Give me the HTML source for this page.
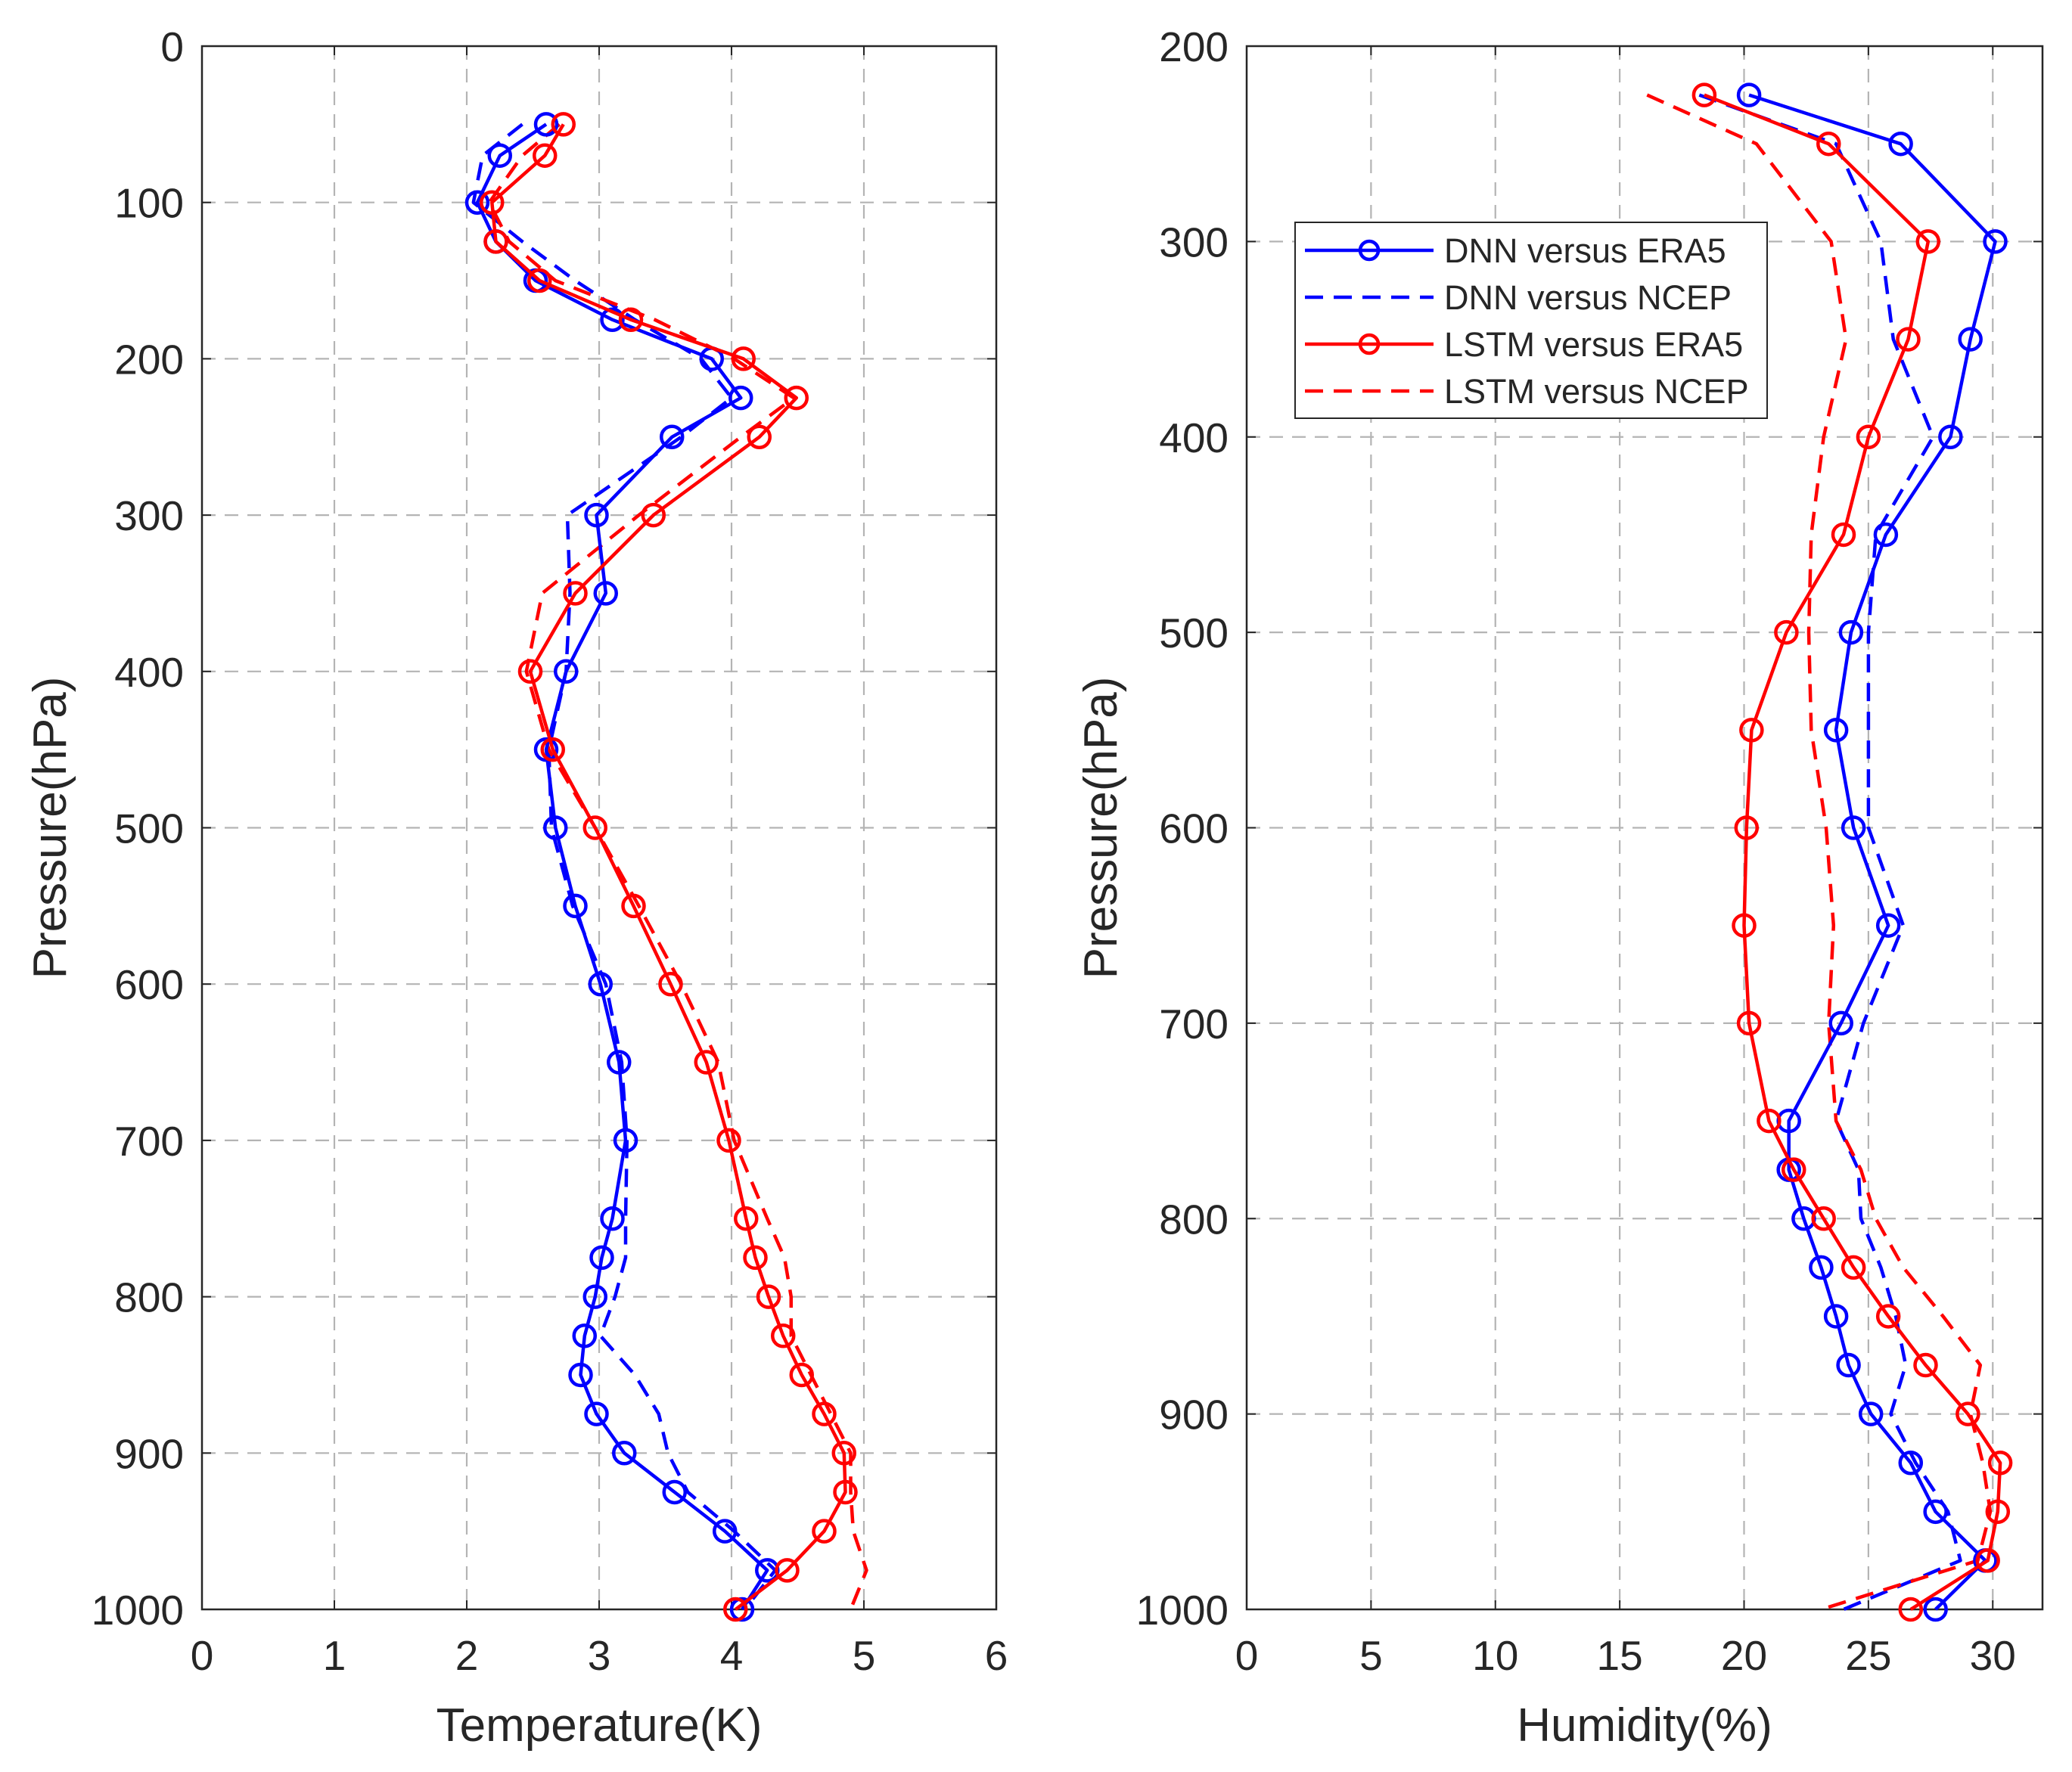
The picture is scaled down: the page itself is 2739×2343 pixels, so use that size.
<!DOCTYPE html>
<html><head><meta charset="utf-8"><style>
html,body{margin:0;padding:0;background:#fff}
svg{display:block;font-family:"Liberation Sans",Arial,sans-serif}
</style></head><body>
<svg id="chart" width="2739" height="2343" viewBox="0 0 2739 2343" xmlns="http://www.w3.org/2000/svg">
<rect width="2739" height="2343" fill="#fff"/>
</svg>
<script>
// ---- Data: temperature panel ----
const tLevels = [50,70,100,125,150,175,200,225,250,300,350,400,450,500,550,600,650,700,750,775,800,825,850,875,900,925,950,975,1000];
const tDnnEra5 = [2.6,2.25,2.08,2.22,2.52,3.1,3.85,4.07,3.55,2.98,3.05,2.75,2.6,2.67,2.82,3.01,3.15,3.2,3.1,3.02,2.97,2.89,2.86,2.98,3.19,3.57,3.95,4.27,4.08];
const tDnnNcep = [2.42,2.12,2.05,2.42,2.82,3.27,3.77,4.0,3.62,2.76,2.78,2.75,2.62,2.64,2.8,3.05,3.17,3.21,3.2,3.2,3.12,3.01,3.27,3.45,3.52,3.67,4.02,4.33,4.1];
const tLstmEra5 = [2.73,2.59,2.19,2.22,2.55,3.24,4.09,4.49,4.21,3.41,2.82,2.48,2.65,2.97,3.26,3.54,3.81,3.98,4.11,4.18,4.28,4.39,4.53,4.7,4.85,4.86,4.7,4.42,4.03];
const tLstmNcep = [2.7,2.42,2.17,2.32,2.67,3.42,4.02,4.47,4.07,3.3,2.57,2.45,2.62,2.97,3.3,3.62,3.9,4.02,4.27,4.4,4.45,4.45,4.6,4.75,4.9,4.9,4.92,5.02,4.9];
const tXTicks = [0,1,2,3,4,5,6];
const tYTicks = [0,100,200,300,400,500,600,700,800,900,1000];
// ---- Data: humidity panel ----
const hLevels = [225,250,300,350,400,450,500,550,600,650,700,750,775,800,825,850,875,900,925,950,975,1000];
const hDnnEra5 = [20.2,26.3,30.1,29.1,28.3,25.7,24.3,23.7,24.4,25.8,23.9,21.8,21.8,22.4,23.1,23.7,24.2,25.1,26.7,27.7,29.7,27.7];
const hDnnNcep = [18.2,23.7,25.5,26.0,27.6,25.3,25.0,25.0,25.0,26.4,24.8,23.7,24.6,24.7,25.5,26.1,26.5,25.9,26.9,28.2,28.7,24.0];
const hLstmEra5 = [18.4,23.4,27.4,26.6,25.0,24.0,21.7,20.3,20.1,20.0,20.2,21.0,22.0,23.2,24.4,25.8,27.3,29.0,30.3,30.2,29.8,26.7];
const hLstmNcep = [16.1,20.5,23.5,24.1,23.2,22.7,22.6,22.7,23.3,23.6,23.4,23.7,24.7,25.3,26.4,28.0,29.5,29.1,29.6,29.9,29.4,23.1];
const hXTicks = [0,5,10,15,20,25,30];
const hYTicks = [200,300,400,500,600,700,800,900,1000];
const legendLabels = ["DNN versus ERA5","DNN versus NCEP","LSTM versus ERA5","LSTM versus NCEP"];

const NS="http://www.w3.org/2000/svg";
const svg=document.getElementById('chart');
function mk(tag,attrs,parent){const e=document.createElementNS(NS,tag);for(const k in attrs)e.setAttribute(k,attrs[k]);(parent||svg).appendChild(e);return e;}

function panel(cfg){
  const g=mk('g',{});
  
  
  const sx=v=>cfg.x0+(v-cfg.xmin)/(cfg.xmax-cfg.xmin)*(cfg.x1-cfg.x0);
  const sy=v=>cfg.y0+(v-cfg.ymin)/(cfg.ymax-cfg.ymin)*(cfg.y1-cfg.y0);
  cfg.xticks.forEach(t=>{const X=sx(t);
    if(t!==cfg.xmin&&t!==cfg.xmax){const l=mk('line',{x1:X,y1:cfg.y0,x2:X,y2:cfg.y1,stroke:'#b4b4b4','stroke-width':2.2,'stroke-dasharray':'18,12'},g);
      }
    mk('line',{x1:X,y1:cfg.y1,x2:X,y2:cfg.y1-12,stroke:'#262626','stroke-width':2},g);
    mk('line',{x1:X,y1:cfg.y0,x2:X,y2:cfg.y0+12,stroke:'#262626','stroke-width':2},g);
    const tx=mk('text',{x:X,y:cfg.y1+80,'font-size':55,fill:'#262626','text-anchor':'middle'},g);tx.textContent=t;
    
  });
  cfg.yticks.forEach(t=>{const Y=sy(t);
    if(t!==cfg.ymin&&t!==cfg.ymax){const l=mk('line',{x1:cfg.x0,y1:Y,x2:cfg.x1,y2:Y,stroke:'#b4b4b4','stroke-width':2.2,'stroke-dasharray':'18,12'},g);
      }
    mk('line',{x1:cfg.x0,y1:Y,x2:cfg.x0+12,y2:Y,stroke:'#262626','stroke-width':2},g);
    mk('line',{x1:cfg.x1,y1:Y,x2:cfg.x1-12,y2:Y,stroke:'#262626','stroke-width':2},g);
    const tx=mk('text',{x:cfg.x0-24,y:Y+20,'font-size':55,fill:'#262626','text-anchor':'end'},g);tx.textContent=t;
    
  });
  const fr=mk('rect',{x:cfg.x0,y:cfg.y0,width:cfg.x1-cfg.x0,height:cfg.y1-cfg.y0,fill:'none',stroke:'#262626','stroke-width':2.5},g);
  
  cfg.series.forEach(s=>{
    const pts=s.vals.map((v,i)=>sx(v).toFixed(1)+','+sy(cfg.levels[i]).toFixed(1)).join(' ');
    const pl=mk('polyline',{points:pts,fill:'none',stroke:s.color,'stroke-width':4.5,'stroke-linejoin':'round'},g);
    if(s.dash)pl.setAttribute('stroke-dasharray','24,14');
    
    if(s.marker){s.vals.forEach((v,i)=>{const c=mk('circle',{cx:sx(v),cy:sy(cfg.levels[i]),r:14,fill:'none',stroke:s.color,'stroke-width':4.5},g);
      });}
  });
  const xl=mk('text',{x:(cfg.x0+cfg.x1)/2,y:2302,'font-size':62,fill:'#262626','text-anchor':'middle'},g);xl.textContent=cfg.xlabel;
  
  const yx=cfg.ylabelX, yc=(cfg.y0+cfg.y1)/2;
  const yl=mk('text',{x:yx,y:yc,'font-size':62,fill:'#262626','text-anchor':'middle',transform:`rotate(-90 ${yx} ${yc})`},g);yl.textContent='Pressure(hPa)';
  
}

panel({name:'temperature-panel',x0:267,x1:1317,y0:61,y1:2128,xmin:0,xmax:6,ymin:0,ymax:1000,xticks:tXTicks,yticks:tYTicks,levels:tLevels,xlabel:'Temperature(K)',ylabelX:87,
  series:[{name:'dnn-ncep-temp',vals:tDnnNcep,color:'#0000ff',dash:true},{name:'lstm-ncep-temp',vals:tLstmNcep,color:'#ff0000',dash:true},
          {name:'dnn-era5-temp',vals:tDnnEra5,color:'#0000ff',marker:true},{name:'lstm-era5-temp',vals:tLstmEra5,color:'#ff0000',marker:true}]});
panel({name:'humidity-panel',x0:1648,x1:2700,y0:61,y1:2128,xmin:0,xmax:32,ymin:200,ymax:1000,xticks:hXTicks,yticks:hYTicks,levels:hLevels,xlabel:'Humidity(%)',ylabelX:1476,
  series:[{name:'dnn-ncep-hum',vals:hDnnNcep,color:'#0000ff',dash:true},{name:'lstm-ncep-hum',vals:hLstmNcep,color:'#ff0000',dash:true},
          {name:'dnn-era5-hum',vals:hDnnEra5,color:'#0000ff',marker:true},{name:'lstm-era5-hum',vals:hLstmEra5,color:'#ff0000',marker:true}]});

const lg=mk('g',{});


mk('rect',{x:1712,y:294,width:624,height:259,fill:'#fff',stroke:'#262626','stroke-width':2},lg);
const lstyles=[{c:'#0000ff',d:false},{c:'#0000ff',d:true},{c:'#ff0000',d:false},{c:'#ff0000',d:true}];
legendLabels.forEach((lab,i)=>{
  const y=331+i*62;
  const ln=mk('line',{x1:1725,y1:y,x2:1895,y2:y,stroke:lstyles[i].c,'stroke-width':4.5},lg);
  if(lstyles[i].d)ln.setAttribute('stroke-dasharray','24,14');
  
  
  if(!lstyles[i].d)mk('circle',{cx:1810,cy:y,r:12,fill:'none',stroke:lstyles[i].c,'stroke-width':4.5},lg);
  const t=mk('text',{x:1909,y:y+16,'font-size':45,fill:'#262626'},lg);t.textContent=lab;
  
  
});
</script>
</body></html>
